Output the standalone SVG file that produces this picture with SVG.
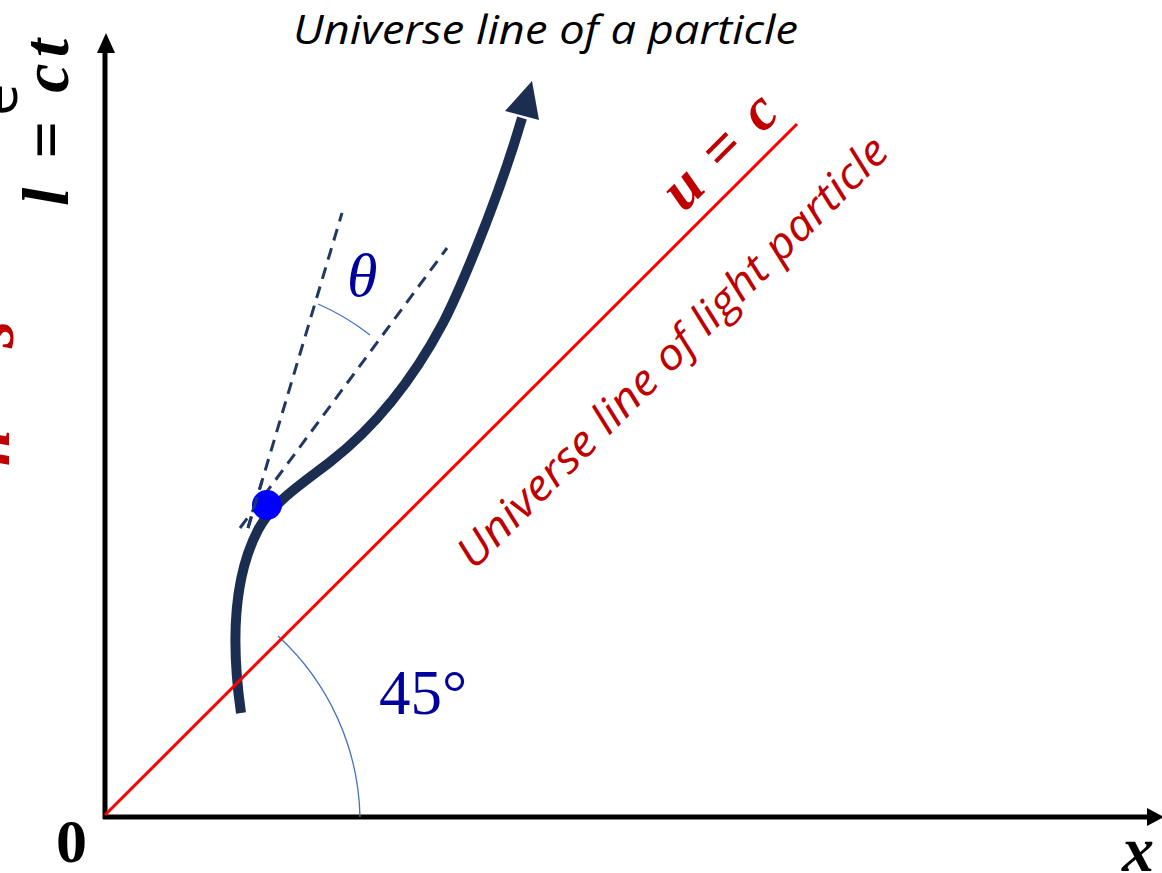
<svg xmlns="http://www.w3.org/2000/svg" width="1162" height="873" viewBox="0 0 1162 873">
<style>
.axis{stroke:#000;stroke-width:5;fill:none}
.dash{stroke:#203864;stroke-width:3;stroke-dasharray:12 8;fill:none}
.arc{stroke:#4472C4;stroke-width:1.3;fill:none}
.lbl{font-family:"Liberation Serif",serif}
.it{font-family:"Open Sans","Noto Sans",sans-serif;font-style:italic}
.math{font-family:"Liberation Serif",serif;font-style:italic;font-weight:bold}
</style>
<rect width="1162" height="873" fill="#fff"/>
<g id="connectors">
<line class="axis" x1="105" y1="819" x2="105" y2="50"/>
<polygon points="106,33 97,53 115,53" fill="#000"/>
<line class="axis" x1="103" y1="817" x2="1150" y2="817"/>
<polygon points="1164,817 1147,808 1147,826" fill="#000"/>
<line class="dash" x1="248" y1="528" x2="342" y2="213"/>
<line class="dash" x1="240" y1="528" x2="447" y2="248"/>
<path class="arc" d="M318,304 A235,235 0 0 1 370,335"/>
<path class="arc" d="M278,636 A253,253 0 0 1 360,817"/>
</g>
<g id="particle-line">
<path d="M241,713 C232,650 232,580 258,530 C272,503 300,485 330,462 C370,431 410,385 443,323 C455,300 495,210 522,118" stroke="#1B2D50" stroke-width="10" fill="none"/>
<polygon points="532,81 505,111 539,120" fill="#1B2D50"/>
</g>
<g id="light-line">
<line x1="105" y1="815" x2="797" y2="124" stroke="#FF0000" stroke-width="3"/>
</g>
<g id="event-point">
<circle cx="267" cy="505" r="15" fill="#0000FF"/>
<line class="dash" x1="248" y1="528" x2="262" y2="481"/>
</g>
<g id="labels">
<text class="it" x="293" y="44" font-size="40" textLength="505" lengthAdjust="spacingAndGlyphs" fill="#000">Universe line of a particle</text>
<text class="it" transform="translate(474,571) rotate(-45)" font-size="43" textLength="590" lengthAdjust="spacingAndGlyphs" fill="#C00000">Universe line of light particle</text>
<text class="math" transform="translate(684,213) rotate(-45)" font-size="60" textLength="138" lengthAdjust="spacing" fill="#C00000">u = c</text>
<text class="math" transform="translate(68,206) rotate(-90)" font-size="66" textLength="167" lengthAdjust="spacing" fill="#000">l = ct</text>
<text transform="translate(17,116) rotate(-90)" font-family="Open Sans, sans-serif" font-size="58" fill="#000">e</text>
<text class="math" transform="translate(13,348) rotate(-90)" font-size="70" fill="#C00000">s</text>
<text class="math" transform="translate(9,466) rotate(-90)" font-size="66" fill="#C00000">n</text>
<text class="lbl" x="347" y="296" font-size="62" font-style="italic" fill="#00009C">θ</text>
<text class="lbl" x="379" y="714" font-size="63" fill="#00009C">45°</text>
<text class="lbl" x="56" y="862" font-size="62" font-weight="bold" fill="#000">0</text>
<text class="math" x="1122" y="871" font-size="64" fill="#000">x</text>
</g>
</svg>
